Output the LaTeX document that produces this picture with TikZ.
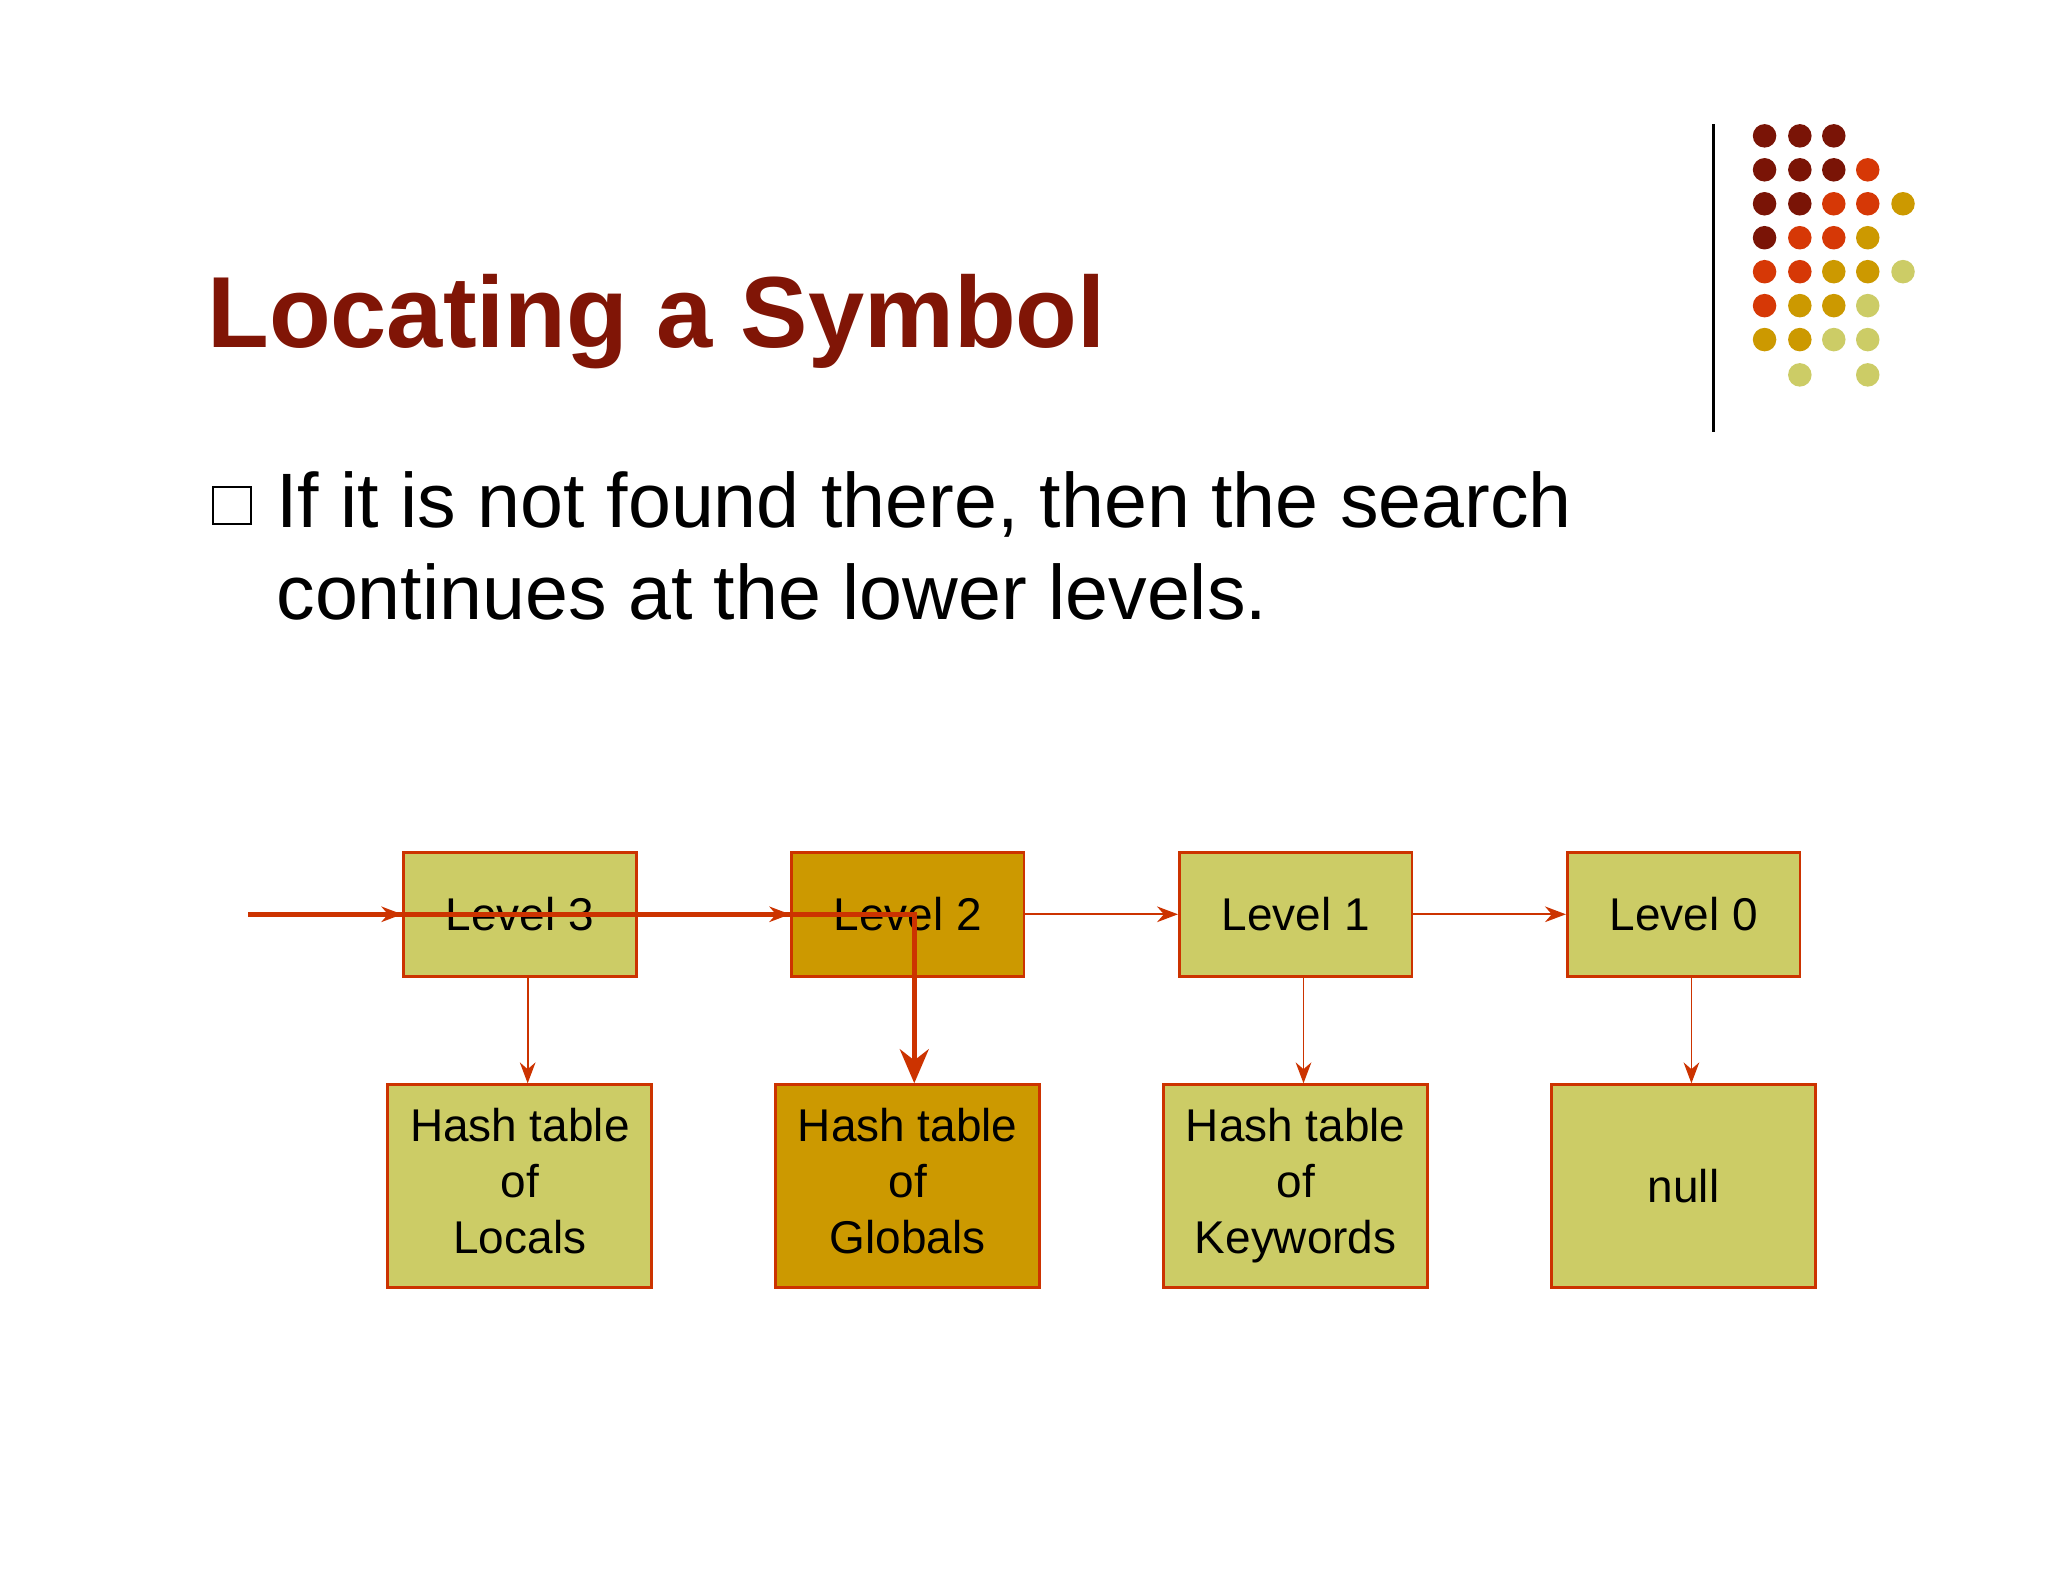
\documentclass[tikz,border=0pt]{standalone}
\usepackage{fontspec}
\setmainfont{Liberation Sans}
\usetikzlibrary{arrows.meta}
\definecolor{dk}{RGB}{122,20,6}
\definecolor{orr}{RGB}{214,56,6}
\definecolor{gd}{RGB}{204,153,0}
\definecolor{lg}{RGB}{204,204,102}
\definecolor{bd}{RGB}{204,51,0}
\definecolor{ttl}{RGB}{128,21,6}
\begin{document}
\begin{tikzpicture}[x=0.01cm,y=-0.01cm,
  lvl/.style={draw=bd,line width=0.6pt,minimum width=1.78cm,minimum height=0.95cm,font=\fontsize{10}{12}\selectfont},
  tbl/.style={draw=bd,line width=0.6pt,minimum width=2.02cm,minimum height=1.55cm,align=center,font=\fontsize{10}{12.2}\selectfont},
  thin/.style={draw=bd,line width=0.4pt,-{Stealth[length=1.6mm,width=1.2mm]}},
  thick/.style={draw=bd,line width=1.2pt,-{Stealth[length=2.6mm,width=2.2mm]}}]
\useasboundingbox[fill=white] (0,0) rectangle (1568,1211);
% dots
\foreach \x/\y/\c in {1351/104/dk,1378/104/dk,1404/104/dk,
 1351/130/dk,1378/130/dk,1404/130/dk,1430/130/orr,
 1351/156/dk,1378/156/dk,1404/156/orr,1430/156/orr,1457/156/gd,
 1351/182/dk,1378/182/orr,1404/182/orr,1430/182/gd,
 1351/208/orr,1378/208/orr,1404/208/gd,1430/208/gd,1457/208/lg,
 1351/234/orr,1378/234/gd,1404/234/gd,1430/234/lg,
 1351/260/gd,1378/260/gd,1404/260/lg,1430/260/lg,
 1378/287/lg,1430/287/lg}
 \fill[\c] (\x,\y) circle (9);
\draw[line width=0.6pt] (1312,95) -- (1312,331);
\node[anchor=base west,inner sep=0,text=ttl,font=\fontsize{22}{26}\selectfont\bfseries] (title) at (158,266) {Locating a Symbol};
\draw[line width=0.5pt] (163,373) rectangle (192,401);
\node[anchor=base west,inner sep=0,align=left,font=\fontsize{16.8}{20}\selectfont] (txt) at (211,474) {If it is not found there, then the search\\continues at the lower levels.};
% boxes
\node[lvl,fill=lg] (l3) at (398,700) {Level 3};
\node[lvl,fill=gd] (l2) at (695,700) {Level 2};
\node[lvl,fill=lg] (l1) at (992,700) {Level 1};
\node[lvl,fill=lg] (l0) at (1289,700) {Level 0};
\node[tbl,fill=lg] (h3) at (398,908) {\strut Hash table\\of\\Locals\strut};
\node[tbl,fill=gd] (h2) at (695,908) {\strut Hash table\\of\\Globals\strut};
\node[tbl,fill=lg] (h1) at (992,908) {\strut Hash table\\of\\Keywords\strut};
\node[tbl,fill=lg] (h0) at (1289,908) {null};
\coordinate (s) at (190,700);
\coordinate (c) at (700,700);
\draw[thin] (s) -- (l3.west);
\draw[thin] (l3.east) -- (l2.west);
\draw[thin] (l2.east) -- (l1.west);
\draw[thin] (l1.east) -- (l0.west);
\draw[thin] ([xshift=0.06cm]l3.south) -- ([xshift=0.06cm]h3.north);
\draw[thin] ([xshift=0.06cm]l1.south) -- ([xshift=0.06cm]h1.north);
\draw[thin] ([xshift=0.06cm]l0.south) -- ([xshift=0.06cm]h0.north);
\draw[thick] (s) -- (c) -- (c |- h2.north);
\end{tikzpicture}
\end{document}
